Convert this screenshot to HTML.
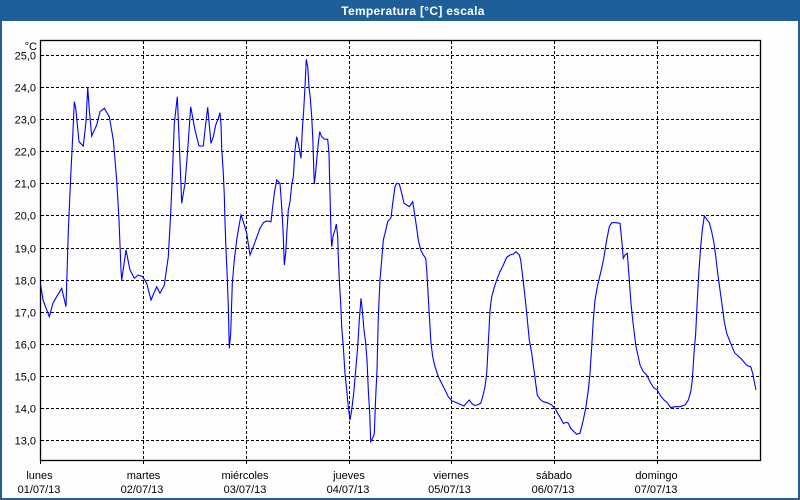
<!DOCTYPE html>
<html>
<head>
<meta charset="utf-8">
<style>
html,body{margin:0;padding:0;background:#fdfefd;}
body{width:800px;height:500px;overflow:hidden;}
svg{display:block;}
text{font-family:"Liberation Sans",Arial,sans-serif;}
</style>
</head>
<body>
<svg width="800" height="500" viewBox="0 0 800 500" xmlns="http://www.w3.org/2000/svg">
  <rect x="0" y="0" width="800" height="500" fill="#fdfefd"/>
  <!-- window border -->
  <rect x="0" y="0" width="800" height="21" fill="#1e5f9a"/>
  <rect x="0" y="0" width="2" height="500" fill="#1e5f9a"/>
  <rect x="798" y="0" width="2" height="500" fill="#1e5f9a"/>
  <rect x="0" y="498" width="800" height="2" fill="#1e5f9a"/>
  <text x="413" y="15" text-anchor="middle" fill="#ffffff" font-size="12" font-weight="bold" letter-spacing="0.3">Temperatura [°C] escala</text>

  <!-- horizontal grid -->
  <g stroke="#000" stroke-width="1" stroke-dasharray="3,2" fill="none">
    <line x1="41" y1="55.5" x2="760" y2="55.5"/>
    <line x1="41" y1="87.5" x2="760" y2="87.5"/>
    <line x1="41" y1="119.5" x2="760" y2="119.5"/>
    <line x1="41" y1="151.5" x2="760" y2="151.5"/>
    <line x1="41" y1="183.5" x2="760" y2="183.5"/>
    <line x1="41" y1="215.5" x2="760" y2="215.5"/>
    <line x1="41" y1="248.5" x2="760" y2="248.5"/>
    <line x1="41" y1="280.5" x2="760" y2="280.5"/>
    <line x1="41" y1="312.5" x2="760" y2="312.5"/>
    <line x1="41" y1="344.5" x2="760" y2="344.5"/>
    <line x1="41" y1="376.5" x2="760" y2="376.5"/>
    <line x1="41" y1="408.5" x2="760" y2="408.5"/>
    <line x1="41" y1="440.5" x2="760" y2="440.5"/>
  </g>
  <!-- vertical grid -->
  <g stroke="#000" stroke-width="1" stroke-dasharray="3,2" fill="none">
    <line x1="143.5" y1="41" x2="143.5" y2="464"/>
    <line x1="246.5" y1="41" x2="246.5" y2="464"/>
    <line x1="349.5" y1="41" x2="349.5" y2="464"/>
    <line x1="451.5" y1="41" x2="451.5" y2="464"/>
    <line x1="554.5" y1="41" x2="554.5" y2="464"/>
    <line x1="657.5" y1="41" x2="657.5" y2="464"/>
  </g>
  <line x1="40.5" y1="460" x2="40.5" y2="464" stroke="#000" stroke-width="1"/>

  <!-- frame -->
  <rect x="40.5" y="40.5" width="720" height="420" fill="none" stroke="#000" stroke-width="1.3"/>

  <!-- y labels -->
  <g font-size="11" fill="#000" text-anchor="end">
    <text x="37" y="50" text-anchor="end">°C</text>
    <text x="36" y="59.5">25,0</text>
    <text x="36" y="91.5">24,0</text>
    <text x="36" y="123.5">23,0</text>
    <text x="36" y="155.5">22,0</text>
    <text x="36" y="187.5">21,0</text>
    <text x="36" y="219.5">20,0</text>
    <text x="36" y="252.5">19,0</text>
    <text x="36" y="284.5">18,0</text>
    <text x="36" y="316.5">17,0</text>
    <text x="36" y="348.5">16,0</text>
    <text x="36" y="380.5">15,0</text>
    <text x="36" y="412.5">14,0</text>
    <text x="36" y="444.5">13,0</text>
  </g>

  <!-- x labels -->
  <g font-size="11" fill="#000" text-anchor="middle">
    <text x="39.5" y="479">lunes</text>
    <text x="39" y="493">01/07/13</text>
    <text x="143.5" y="479">martes</text>
    <text x="142" y="493">02/07/13</text>
    <text x="245" y="479">miércoles</text>
    <text x="245" y="493">03/07/13</text>
    <text x="349" y="479">jueves</text>
    <text x="348" y="493">04/07/13</text>
    <text x="451" y="479">viernes</text>
    <text x="449.5" y="493">05/07/13</text>
    <text x="554" y="479">sábado</text>
    <text x="553" y="493">06/07/13</text>
    <text x="656.5" y="479">domingo</text>
    <text x="656" y="493">07/07/13</text>
  </g>

  <!-- series -->
  <polyline fill="none" stroke="#0000ff" stroke-width="1.1" stroke-linejoin="miter" points="
40.7,285 43,300 49.3,316.7 53,303 56.7,296.7 61.7,288.3 66,306.7 68.3,231.7 70.7,176.7 72.7,136.7 74.3,101.7 75.7,108 79,141.7 83.3,146 86,121.7 87.7,87.3 89.3,110 91.7,136 96.7,125 100,111.7 104.3,108.3 109.3,116.7 113.3,140 116.7,180 119,220 121,270 121.7,280 126,250 130,270 134.3,278.3 138.3,275 142.7,276.7 146.7,283.3 151,300 156.7,286.7 160,293.3 164.3,285 168.3,256.7 170.7,213.3 172.7,166.7 174.3,123.3 177.3,96.7 179.3,143.3 181.7,203.3 185,183.3 187.7,150 190.7,106.7 195,130
199,146 203.3,146 205,130 207.7,107.3 209,121.7 211,143.3 213.3,136.7 215.7,125 218.3,118.3 220,112.7 221,125 221.7,148.3 223.3,173.3 224.3,195 225,221.7 226,250 227.3,278.3 228.3,306.7 229.3,348.3 230.7,333.3 232.3,283.3 234.3,260 236.7,240 238.3,230 241,215 243.3,221.7 246.7,233.3 247.7,240 250,255 253.3,246.7 256.7,237.3 260,228.3 263.3,222.7 266.7,221 271,221.7 272.3,210 274.3,193.3 276.7,180 280,183.3 281,196.7 282.3,216.7 283.3,236.7 284.3,265 285.7,253.3 287,230 288.3,210 290,201.7 291.7,185 293.3,176.7 295,150 296.7,136.7 298.3,143.3 300,153.3 301,158.3 302.3,130 303.7,110 305,86.7 306.3,59.3 307.7,66.7 309,86.7 310.3,98.3 311.7,116.7 312.7,136.7 313.3,155 314.3,184 315.7,171.7 317,156.7 318.3,143.3 319.7,131.7 321.7,136.7 324.3,139 327.7,139.3 329,153.3 329.7,183.3 330.3,206.7 331,233.3 331.7,246.7 333.3,235 335,230 336.3,224 337.7,236.7 338.3,256.7 339.3,280 340.7,303.3 341.7,326.7 343.3,346.7 345,373.3 346.7,390 348.3,406.7 350,420 351.7,410 353.7,393.3 355.7,370 357.7,346.7 359.3,320 361,298.3 362.3,310 364,330 365.7,343.3 367,360 368.3,390 369.7,413.3 370.7,441.7 372.7,438.3 374.3,433.3 375.7,396.7 377,370 378.3,316.7 380,280 381.7,260 383.3,240 385,233.3 387.7,221.7 391,217.7
392.7,203.3 395,186.7 396.7,183.3 399.3,184 401.7,193.3 404,203.3 406.7,205 409.3,206.7 412.7,201.7 414,210 416,223.3 418.3,240 420.7,250 423.3,255 425.7,258.3 426.7,270 427.7,286.7 429,310 430,326.7 431,343.3 432.7,356.7 435,366.7 438.3,376.7 441.7,383.3 445,390 448.3,396.7 451.7,400.7 456.7,402.7 460,404.3 464,406 466.7,402.7 469.3,400 471.7,403.3 474,405.3 477.3,405 480.7,403.3 482.7,396.7 485,386.7 486.7,373.3 488.3,343.3 490,310 491.7,296.7 494,288.3 496.7,280 500,271.7 503.3,265 506.7,257.3 510,255 513.3,254 516,251.7 519.3,255 520.7,260 522.7,276.7 525,296.7 526.7,313.3 529.3,340 531.7,353.3 534,370 535.7,383.3 537.3,395 540,399.3 543.3,401.7 547.3,402.7 551.7,405 555,408.3 557.7,413.3 560.7,418.3 563.3,423.3 566.7,422.3 568.3,423.3 570.7,428.3 574,431.7 576.7,434.3 580,433.3
583.3,420 586,406.7 588.3,390 590,373.3 591.7,346.7 593.3,320 595,300 597.3,286.7 599.3,278.3 601.7,268.3 604,256.7 606.7,240 609.3,226.7 611.7,222.7 616,222.7 620,223.3 621.7,240 623.3,258.3 625,255 627.3,253.3 629.3,280 631,303.3 632.7,320 634.3,333.3 636,346.7 638.3,356.7 640,365 643.3,371.7 646.7,375 650,381.7 653.3,387.3 657.3,390 660,395 663.3,399.3 667.3,402.7 670.7,407.7 675,406.7 680,406.7 685,405 688.3,400 690.7,391.7 692.3,380 694,353.3 695.7,333.3 697.3,300 699,270 700.7,246.7 702.3,230 704.3,216 706.7,219.3 709.3,222.7 711.7,231.7 714,243.3 716,258.3 717.7,273.3 720,290 722.3,306.7 724.3,321.7 726.7,333.3 730,341.7 732.7,348.3 735,353.3 738.3,356 741.7,359.3 745,363.3 747.3,365.7 750.7,366.7 752.7,373.3 754.3,381.7 756,390"/>
</svg>
</body>
</html>
